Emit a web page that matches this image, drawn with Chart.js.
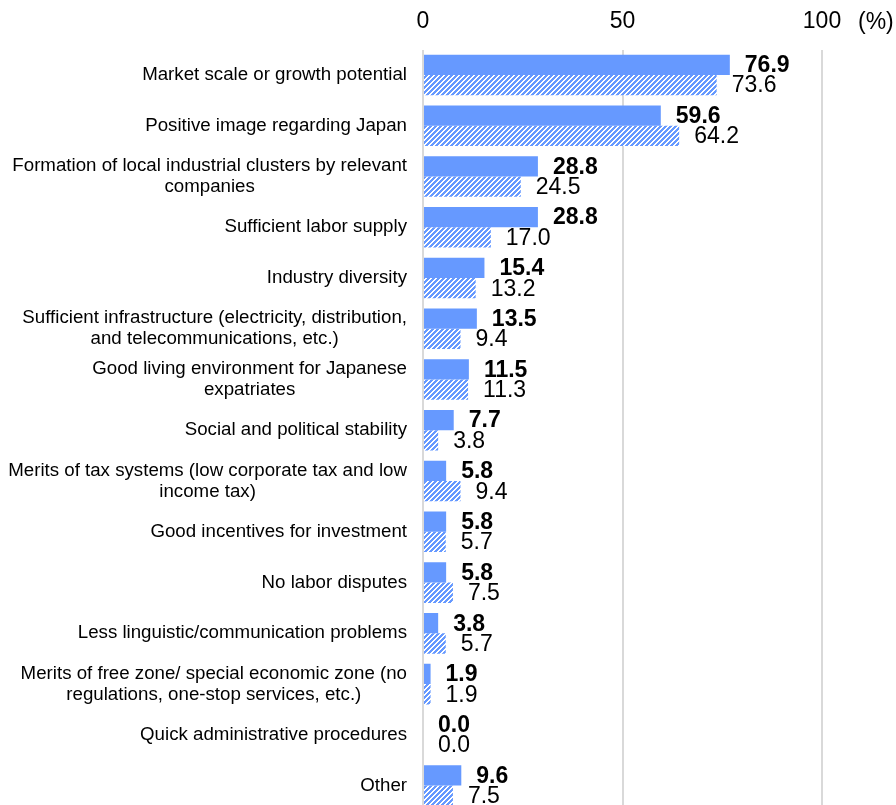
<!DOCTYPE html>
<html>
<head>
<meta charset="utf-8">
<script src="https://cdn.jsdelivr.net/npm/chart.js@4"></script>
<style>
  html, body { margin: 0; padding: 0; background: #fff; overflow: hidden; }
  #wrap { width: 896px; height: 805px; overflow: hidden; }
  canvas { display: block; }
</style>
</head>
<body>
<div id="wrap"><canvas id="c" width="896" height="820"></canvas></div>
<script>
// Reasons for choosing the location (multiple answers, %)
const categories = [
  ["Market scale or growth potential"],
  ["Positive image regarding Japan"],
  ["Formation of local industrial clusters by relevant", "companies"],
  ["Sufficient labor supply"],
  ["Industry diversity"],
  ["Sufficient infrastructure (electricity, distribution,", "and telecommunications, etc.)"],
  ["Good living environment for Japanese", "expatriates"],
  ["Social and political stability"],
  ["Merits of tax systems (low corporate tax and low", "income tax)"],
  ["Good incentives for investment"],
  ["No labor disputes"],
  ["Less linguistic/communication problems"],
  ["Merits of free zone/ special economic zone (no", "regulations, one-stop services, etc.)"],
  ["Quick administrative procedures"],
  ["Other"]
];
const currentSurvey  = [76.9, 59.6, 28.8, 28.8, 15.4, 13.5, 11.5, 7.7, 5.8, 5.8, 5.8, 3.8, 1.9, 0.0, 9.6];
const previousSurvey = [73.6, 64.2, 24.5, 17.0, 13.2, 9.4, 11.3, 3.8, 9.4, 5.7, 7.5, 5.7, 1.9, 0.0, 7.5];
const xTicks = [0, 50, 100];
const unitLabel = "(%)";

const BLUE = "#6699FF";
const FONT = "'Liberation Sans', Arial, sans-serif";

// diagonal stripe fill for the previous-survey bars
function makeHatch() {
  const size = 5;
  const t = document.createElement("canvas");
  t.width = size; t.height = size;
  const g = t.getContext("2d");
  g.fillStyle = "#ffffff";
  g.fillRect(0, 0, size, size);
  g.fillStyle = BLUE;
  for (let y = 0; y < size; y++) {
    for (let x = 0; x < size; x++) {
      if ((x + y) % size < 3) g.fillRect(x, y, 1, 1);
    }
  }
  return document.getElementById("c").getContext("2d").createPattern(t, "repeat");
}

// category names: right-aligned blocks, lines centred inside each block
const categoryLabels = {
  id: "categoryLabels",
  afterDraw(chart) {
    const ctx = chart.ctx;
    const yScale = chart.scales.y;
    const right = chart.chartArea.left - 16;
    const lh = 21;
    ctx.save();
    ctx.font = "18.7px " + FONT;
    ctx.fillStyle = "#000";
    ctx.textAlign = "center";
    ctx.textBaseline = "middle";
    categories.forEach((lines, i) => {
      const cy = yScale.getPixelForValue(i);
      const w = Math.max(...lines.map(l => ctx.measureText(l).width));
      const cx = right - w / 2;
      const y0 = cy - (lines.length - 1) * lh / 2;
      lines.forEach((l, k) => ctx.fillText(l, cx, y0 + k * lh));
    });
    ctx.restore();
  }
};

// value labels at the end of each bar, plus the unit next to the axis
const valueLabels = {
  id: "valueLabels",
  afterDatasetsDraw(chart) {
    const ctx = chart.ctx;
    ctx.save();
    ctx.fillStyle = "#000";
    ctx.textAlign = "left";
    ctx.textBaseline = "middle";
    chart.data.datasets.forEach((ds, di) => {
      ctx.font = (di === 0 ? "bold " : "") + "23px " + FONT;
      chart.getDatasetMeta(di).data.forEach((bar, i) => {
        ctx.fillText(ds.data[i].toFixed(1), bar.x + 15, bar.y + 1);
      });
    });
    const xs = chart.scales.x;
    ctx.font = "23px " + FONT;
    ctx.fillText(unitLabel, xs.getPixelForValue(100) + 36, 23);
    ctx.restore();
  }
};

new Chart(document.getElementById("c"), {
  type: "bar",
  data: {
    labels: categories.map(c => c.join(" ")),
    datasets: [
      {
        label: "Current survey",
        data: currentSurvey,
        backgroundColor: BLUE,
        borderWidth: 0,
        categoryPercentage: 0.8,
        barPercentage: 1.0
      },
      {
        label: "Previous survey",
        data: previousSurvey,
        backgroundColor: makeHatch(),
        borderWidth: 0,
        categoryPercentage: 0.8,
        barPercentage: 1.0
      }
    ]
  },
  options: {
    indexAxis: "y",
    responsive: false,
    animation: false,
    layout: { padding: { left: 423, right: 74, top: -6, bottom: 9 } },
    plugins: {
      legend: { display: false },
      tooltip: { enabled: false }
    },
    scales: {
      x: {
        position: "top",
        min: 0,
        max: 100,
        afterBuildTicks(scale) { scale.ticks = xTicks.map(v => ({ value: v })); },
        ticks: {
          font: { size: 23, family: FONT },
          color: "#000",
          padding: 14
        },
        grid: { color: "#d9d9d9", lineWidth: 2, drawTicks: false },
        border: { display: false }
      },
      y: {
        display: false
      }
    }
  },
  plugins: [categoryLabels, valueLabels]
});
</script>
</body>
</html>
